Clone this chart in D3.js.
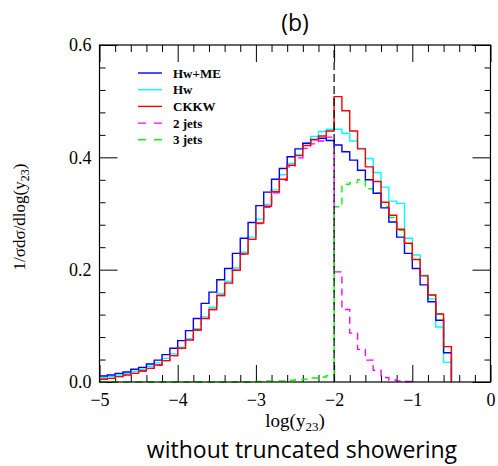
<!DOCTYPE html>
<html>
<head>
<meta charset="utf-8">
<script src="https://cdn.jsdelivr.net/npm/d3@7"></script>
<style>
  body { margin: 0; background: #fff; }
  .tick text { font-family: "Liberation Serif", serif; font-size: 18px; fill: #000; }
  .tick line { stroke: #000; stroke-width: 1; }
</style>
</head>
<body>
<svg id="chart" width="498" height="466"></svg>
<script>
// bins of log(y23), width 0.1 starting at -5
const binStart = -5;
const binWidth = 0.1;

const hwme = [0.0107, 0.0125, 0.0154, 0.0178, 0.0226, 0.0261, 0.032, 0.039, 0.0487, 0.060,
  0.0736, 0.0914, 0.113, 0.140, 0.160, 0.182, 0.202, 0.229, 0.256, 0.284,
  0.314, 0.338, 0.361, 0.380, 0.401, 0.415, 0.425, 0.432, 0.434, 0.430,
  0.422, 0.410, 0.395, 0.377, 0.360, 0.336, 0.310, 0.285, 0.258, 0.229,
  0.202, 0.173, 0.143, 0.110, 0.052];

const hw = [0.0078, 0.0095, 0.0125, 0.015, 0.019, 0.0228, 0.028, 0.034, 0.042, 0.050,
  0.062, 0.077, 0.095, 0.116, 0.133, 0.157, 0.179, 0.203, 0.231, 0.258,
  0.290, 0.316, 0.342, 0.369, 0.389, 0.405, 0.425, 0.437, 0.446, 0.450,
  0.450, 0.443, 0.429, 0.416, 0.398, 0.373, 0.347, 0.322, 0.318, 0.256,
  0.226, 0.190, 0.148, 0.098, 0.035];

const ckkw = [0.0048, 0.0065, 0.0095, 0.0125, 0.0154, 0.0196, 0.0243, 0.0303, 0.038, 0.047,
  0.060, 0.0748, 0.0926, 0.113, 0.129, 0.154, 0.176, 0.199, 0.228, 0.254,
  0.283, 0.313, 0.339, 0.361, 0.386, 0.403, 0.421, 0.431, 0.438, 0.447,
  0.508, 0.483, 0.447, 0.415, 0.383, 0.357, 0.320, 0.297, 0.272, 0.247,
  0.218, 0.189, 0.155, 0.121, 0.063];

const jets2 = [0.0048, 0.0065, 0.0095, 0.0125, 0.0154, 0.0196, 0.0243, 0.0303, 0.038, 0.047,
  0.060, 0.0748, 0.0926, 0.113, 0.129, 0.154, 0.176, 0.199, 0.228, 0.254,
  0.282, 0.311, 0.337, 0.359, 0.383, 0.399, 0.416, 0.424, 0.429, 0.436,
  0.196, 0.129, 0.087, 0.058, 0.039, 0.021, 0.008, 0.0035, 0.002, 0.001];

const jets3 = [0, 0, 0, 0, 0, 0, 0, 0, 0, 0,
  0, 0, 0, 0, 0, 0, 0, 0, 0, 0,
  0.001, 0.002, 0.002, 0.002, 0.003, 0.004, 0.005, 0.007, 0.009, 0.011,
  0.312, 0.352, 0.355, 0.360, 0.344, 0.336, 0.312, 0.293, 0.270, 0.246,
  0.218, 0.189, 0.155, 0.121, 0.063];

const seriesNames = ["Hw+ME", "Hw", "CKKW", "2 jets", "3 jets"];
const xMajor = [-5, -4, -3, -2, -1, 0];
const yMajor = [0, 0.2, 0.4, 0.6];
const yCut = -2;

const series = [
  { name: seriesNames[0], values: hwme, color: "#0000ff", dash: null },
  { name: seriesNames[1], values: hw, color: "#00ffff", dash: null },
  { name: seriesNames[2], values: ckkw, color: "#ff0000", dash: null },
  { name: seriesNames[3], values: jets2, color: "#ff00ff", dash: "7,5" },
  { name: seriesNames[4], values: jets3, color: "#00ff00", dash: "7,5" }
];

const svg = d3.select("#chart");

const plotL = 99.5, plotR = 490.5, plotT = 45, plotB = 382;
const x = d3.scaleLinear().domain([-5, 0]).range([plotL, plotR]);
const y = d3.scaleLinear().domain([0, 0.6]).range([plotB, plotT]);

const xMinor = d3.range(-5, 0.001, 0.2).map((d) => +d.toFixed(1)).filter((d) => !xMajor.includes(d));
const yMinor = d3.range(0, 0.601, 0.04).map((d) => +d.toFixed(2)).filter((d) => !yMajor.includes(d));

// axes: ticks pointing inward on all four sides
const fmtX = d3.format("d");
const fmtY = d3.format(".1f");

svg.append("g").attr("transform", `translate(0,${plotB})`)
  .call(d3.axisBottom(x).tickValues(xMajor).tickSize(-17).tickPadding(11).tickFormat(fmtX));
svg.append("g").attr("transform", `translate(0,${plotB})`)
  .call(d3.axisBottom(x).tickValues(xMinor).tickSize(-7).tickFormat(""));
svg.append("g").attr("transform", `translate(0,${plotT})`)
  .call(d3.axisTop(x).tickValues(xMajor).tickSize(-17).tickFormat(""));
svg.append("g").attr("transform", `translate(0,${plotT})`)
  .call(d3.axisTop(x).tickValues(xMinor).tickSize(-7).tickFormat(""));

svg.append("g").attr("transform", `translate(${plotL},0)`)
  .call(d3.axisLeft(y).tickValues(yMajor).tickSize(-18).tickPadding(8).tickFormat(fmtY));
svg.append("g").attr("transform", `translate(${plotL},0)`)
  .call(d3.axisLeft(y).tickValues(yMinor).tickSize(-6).tickFormat(""));
svg.append("g").attr("transform", `translate(${plotR},0)`)
  .call(d3.axisRight(y).tickValues(yMajor).tickSize(-18).tickFormat(""));
svg.append("g").attr("transform", `translate(${plotR},0)`)
  .call(d3.axisRight(y).tickValues(yMinor).tickSize(-6).tickFormat(""));

svg.selectAll(".domain").remove();

// histograms
const line = d3.line()
  .x((d) => x(d[0]))
  .y((d) => y(d[1]))
  .curve(d3.curveStepAfter);

const steps = (vals) => {
  const pts = vals.map((v, i) => [binStart + i * binWidth, v]);
  pts.push([binStart + vals.length * binWidth, 0]);
  return pts;
};

const drawOrder = [series[3], series[4], series[1], series[0], series[2]];
svg.append("g")
  .selectAll("path")
  .data(drawOrder).enter()
  .append("path")
    .attr("d", (d) => line(steps(d.values)))
    .style("fill", "none")
    .style("stroke", (d) => d.color)
    .style("stroke-width", 1.4)
    .style("stroke-dasharray", (d) => d.dash);

// y_cut marker
svg.append("line")
  .attr("x1", x(yCut)).attr("x2", x(yCut))
  .attr("y1", y(0)).attr("y2", y(0.6))
  .style("stroke", "#000")
  .style("stroke-width", 1.2)
  .style("stroke-dasharray", "8,4");

// frame
svg.append("rect")
  .attr("x", plotL).attr("y", plotT)
  .attr("width", plotR - plotL).attr("height", plotB - plotT)
  .style("fill", "none")
  .style("stroke", "#000")
  .style("stroke-width", 1.2);

// legend
const legend = svg.append("g")
  .selectAll("g")
  .data(series).enter()
  .append("g")
    .attr("transform", (d, i) => `translate(138, ${73 + i * 16.7})`);

legend.append("line")
  .attr("x1", 0).attr("x2", 24)
  .style("stroke", (d) => d.color)
  .style("stroke-width", 1.4)
  .style("stroke-dasharray", (d) => d.dash ? "8,8" : null);

legend.append("text")
  .attr("x", 35).attr("y", 4.5)
  .text((d) => d.name)
  .style("font-family", "Liberation Serif, serif")
  .style("font-weight", "bold")
  .style("font-size", "13px");

// axis titles
const xTitle = svg.append("text")
  .attr("x", 295).attr("y", 427)
  .attr("text-anchor", "middle")
  .style("font-family", "Liberation Serif, serif")
  .style("font-size", "19px");
xTitle.append("tspan").text("log(y");
xTitle.append("tspan").text("23").style("font-size", "13px").attr("dy", 4);
xTitle.append("tspan").text(")").attr("dy", -4);

const yTitle = svg.append("text")
  .attr("transform", "translate(25,217) rotate(-90)")
  .attr("text-anchor", "middle")
  .style("font-family", "Liberation Serif, serif")
  .style("font-size", "17px");
yTitle.append("tspan").text("1/σdσ/dlog(y");
yTitle.append("tspan").text("23").style("font-size", "12px").attr("dy", 4);
yTitle.append("tspan").text(")").attr("dy", -4);

// panel title and caption
svg.append("text")
  .attr("x", 295).attr("y", 31)
  .attr("text-anchor", "middle")
  .style("font-family", "Open Sans, sans-serif")
  .style("font-size", "23px")
  .text("(b)");

svg.append("text")
  .attr("x", 302).attr("y", 458)
  .attr("text-anchor", "middle")
  .style("font-family", "Open Sans, sans-serif")
  .style("font-size", "23px")
  .text("without truncated showering");
</script>
</body>
</html>
